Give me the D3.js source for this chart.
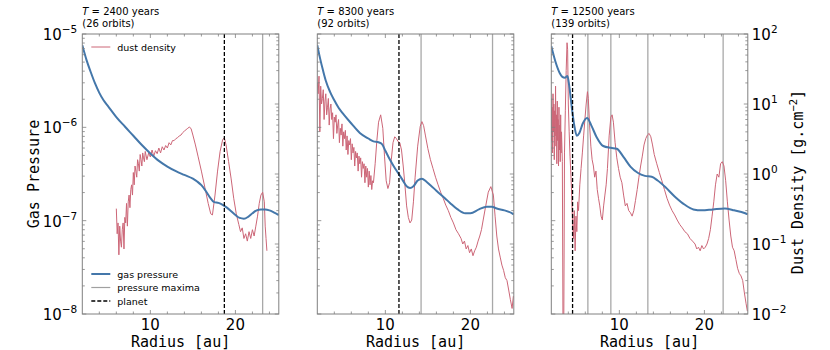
<!DOCTYPE html>
<html lang="en">
<head>
<meta charset="UTF-8">
<title>Gas pressure and dust density</title>
<script src="https://cdnjs.cloudflare.com/ajax/libs/d3/7.8.5/d3.min.js"></script>
<style>
    body { margin: 0; background: #fff; }
    svg { display: block; font-family: "DejaVu Sans", sans-serif; }
    .mono { font-family: "DejaVu Sans Mono", monospace; }
</style>
</head>
<body>
<svg id="chart" width="830" height="350"></svg>
<script>
// snapshot info
const years = ["2400", "8300", "12500"];
const orbits = ["26", "92", "139"];
const planetR = [18.7, 11.6, 4.5];
const maximaR = [[23.2], [14.2, 22.6], [6.3, 9.0, 13.35, 22.2]];

// gas pressure (left axis)
const gasR1 = [2, 2.5, 3, 3.5, 4, 4.5, 5, 6, 7, 8, 9, 10, 11, 12, 13, 14, 15, 15.5, 16, 16.5,
    17, 17.5, 18, 18.5, 19, 19.5, 20, 20.5, 21, 21.5, 22, 22.5, 23, 23.5, 24, 24.5, 25.1];
const gasP1 = [7.59e-6, 5.25e-6, 3.89e-6, 2.95e-6, 2.34e-6, 1.95e-6, 1.70e-6, 1.29e-6, 1.02e-6, 8.13e-7,
    6.46e-7, 5.25e-7, 4.37e-7, 3.80e-7, 3.39e-7, 3.09e-7, 2.82e-7, 2.63e-7, 2.40e-7, 2.09e-7,
    1.78e-7, 1.58e-7, 1.55e-7, 1.48e-7, 1.38e-7, 1.26e-7, 1.15e-7, 1.07e-7, 1.05e-7, 1.10e-7,
    1.20e-7, 1.29e-7, 1.32e-7, 1.32e-7, 1.29e-7, 1.23e-7, 1.15e-7];

const gasR2 = [2, 2.3, 2.7, 3, 3.5, 4, 4.5, 5, 6, 7, 8, 8.6, 9.2, 9.6, 10, 10.5, 11, 11.5, 12, 12.5,
    12.9, 13.3, 13.8, 14.3, 14.8, 15.3, 16, 17, 17.6, 18.5, 19.4, 20, 21, 21.9, 22.5, 23.1, 24, 24.9, 25.1];
const gasP2 = [7.59e-6, 5.62e-6, 3.98e-6, 3.16e-6, 2.40e-6, 1.95e-6, 1.62e-6, 1.41e-6, 1.10e-6, 8.71e-7,
    7.59e-7, 7.08e-7, 6.92e-7, 6.61e-7, 5.62e-7, 4.57e-7, 3.80e-7, 3.24e-7, 2.75e-7, 2.34e-7,
    2.24e-7, 2.34e-7, 2.69e-7, 2.82e-7, 2.63e-7, 2.40e-7, 2.09e-7, 1.74e-7, 1.55e-7, 1.32e-7,
    1.20e-7, 1.20e-7, 1.32e-7, 1.41e-7, 1.41e-7, 1.35e-7, 1.29e-7, 1.20e-7, 1.17e-7];

const gasR3 = [2, 2.5, 3, 3.3, 3.6, 3.9, 4.1, 4.4, 4.7, 5, 5.3, 5.7, 6.2, 6.7, 7.3, 8.1, 9, 9.7, 10.5, 11.3,
    12.2, 13, 13.8, 14.5, 15.4, 16.5, 17.7, 18.7, 19.7, 21, 22.4, 23.5, 24.8, 25.1];
const gasP3 = [7.41e-6, 5.01e-6, 3.80e-6, 3.47e-6, 3.39e-6, 3.55e-6, 2.82e-6, 1.66e-6, 1.05e-6, 8.13e-7,
    8.71e-7, 1.10e-6, 1.26e-6, 1.05e-6, 7.94e-7, 6.31e-7, 6.03e-7, 5.89e-7, 4.79e-7, 3.80e-7,
    3.24e-7, 3.02e-7, 2.95e-7, 2.69e-7, 2.29e-7, 1.82e-7, 1.48e-7, 1.32e-7, 1.29e-7, 1.32e-7,
    1.35e-7, 1.29e-7, 1.20e-7, 1.17e-7];

// dust surface density (right axis, g/cm^2)
const dustR1 = [6.0, 6.1, 6.2, 6.3, 6.4, 6.5, 6.6, 6.7, 6.8, 6.9,
    7.0, 7.1, 7.2, 7.3, 7.4, 7.5, 7.6, 7.7, 7.8, 7.9,
    8.0, 8.1, 8.2, 8.3, 8.4, 8.5, 8.6, 8.7, 8.8, 8.9,
    9.0, 9.1, 9.2, 9.3, 9.4, 9.6, 9.8, 10.0, 10.2, 10.4,
    10.6, 10.8, 11.0, 11.2, 11.4, 11.6, 11.8, 12.0, 12.2, 12.4,
    12.6, 12.8, 13.0, 13.2, 13.4, 13.6, 13.8, 14.0, 14.2, 14.4,
    14.6, 14.8, 15.0, 15.3, 15.6, 16.0, 16.4, 16.8, 17.1, 17.3,
    17.6, 17.9, 18.2, 18.5, 18.7, 18.9, 19.2, 19.5, 19.8, 20.1,
    20.4, 20.6, 20.8, 21.0, 21.2, 21.4, 21.6, 21.8, 22.0, 22.2,
    22.4, 22.6, 22.8, 23.0, 23.2, 23.4, 23.5, 23.6, 23.7];
const dustD1 = [0.32, 0.14, 0.20, 0.07, 0.18, 0.11, 0.09, 0.16, 0.20, 0.085,
    0.24, 0.20, 0.38, 0.18, 0.40, 0.50, 0.33, 0.60, 0.70, 0.50,
    1.05, 0.70, 1.3, 1.1, 0.9, 1.6, 1.4, 1.1, 1.9, 1.6,
    1.3, 2.0, 1.7, 1.5, 2.1, 1.6, 2.0, 1.75, 2.2, 1.8,
    2.15, 1.95, 2.35, 2.0, 2.45, 2.2, 2.55, 2.35, 2.8, 2.6,
    3.0, 3.0, 3.2, 3.3, 3.5, 3.6, 3.9, 4.1, 4.3, 4.5,
    4.7, 4.4, 3.6, 2.6, 1.8, 1.1, 0.65, 0.38, 0.27, 0.26,
    0.5, 1.1, 2.1, 3.1, 3.3, 2.6, 1.5, 0.85, 0.45, 0.27,
    0.19, 0.15, 0.17, 0.12, 0.14, 0.11, 0.15, 0.12, 0.16, 0.13,
    0.18, 0.25, 0.38, 0.50, 0.55, 0.40, 0.18, 0.12, 0.08];

const dustR2 = [2.0, 2.1, 2.2, 2.3, 2.4, 2.5, 2.6, 2.7, 2.8, 2.9,
    3.0, 3.1, 3.2, 3.3, 3.4, 3.5, 3.6, 3.7, 3.8, 3.9,
    4.0, 4.1, 4.2, 4.3, 4.4, 4.5, 4.6, 4.7, 4.8, 4.9,
    5.0, 5.1, 5.2, 5.3, 5.4, 5.5, 5.6, 5.7, 5.8, 5.9,
    6.0, 6.1, 6.2, 6.3, 6.4, 6.5, 6.6, 6.7, 6.8, 6.9,
    7.0, 7.1, 7.2, 7.3, 7.4, 7.5, 7.6, 7.7, 7.8, 7.9,
    8.0, 8.1, 8.2, 8.3, 8.4, 8.5, 8.6, 8.80, 9.00, 9.20,
    9.45, 9.70, 9.90, 10.10, 10.30, 10.50, 10.70, 10.90, 11.10, 11.30,
    11.50, 11.70, 11.90, 12.10, 12.30, 12.50, 12.70, 12.90, 13.10, 13.30,
    13.50, 13.80, 14.10, 14.30, 14.50, 14.70, 15.00, 15.30, 15.60, 15.90,
    16.20, 16.50, 16.80, 17.10, 17.40, 17.70, 18.00, 18.30, 18.60, 18.90,
    19.10, 19.30, 19.50, 19.70, 19.90, 20.10, 20.30, 20.50, 20.70, 20.90,
    21.10, 21.30, 21.50, 21.80, 22.10, 22.40, 22.70, 22.90, 23.10, 23.30,
    23.50, 23.70, 23.90, 24.10, 24.30, 24.50, 24.70, 24.90, 25.05];
const dustD2 = [20, 14, 25, 4, 18, 10, 12, 16, 6, 11,
    14, 7, 9, 12, 5, 8.5, 10, 6, 7.5, 3.2,
    6.5, 5.5, 7, 3.8, 5, 6, 2.8, 4.5, 3.6, 5.2,
    2.5, 4, 3.2, 4.2, 2.2, 3.5, 1.9, 3.0, 2.6, 3.2,
    1.6, 2.7, 2.0, 2.4, 1.3, 2.1, 1.7, 2.0, 1.1, 1.8,
    1.4, 1.7, 0.9, 1.5, 1.2, 1.4, 0.75, 1.3, 0.9, 1.2,
    0.65, 1.1, 0.7, 0.95, 0.6, 0.8, 0.75, 1.4, 3.0, 5.5,
    7.0, 4.5, 1.8, 0.8, 0.62, 0.75, 1.6, 2.8, 3.4, 3.2,
    2.9, 2.8, 2.2, 1.3, 0.7, 0.35, 0.24, 0.2, 0.22, 0.4,
    0.9, 2.5, 4.8, 5.6, 4.9, 3.6, 2.3, 1.6, 1.2, 0.9,
    0.7, 0.55, 0.45, 0.36, 0.3, 0.24, 0.2, 0.16, 0.14, 0.12,
    0.10, 0.11, 0.085, 0.095, 0.075, 0.085, 0.068, 0.08, 0.09, 0.11,
    0.13, 0.16, 0.22, 0.35, 0.55, 0.66, 0.5, 0.25, 0.13, 0.085,
    0.065, 0.05, 0.042, 0.033, 0.03, 0.022, 0.016, 0.012, 0.018];

const dustR3 = [2.00, 2.05, 2.10, 2.15, 2.20, 2.25, 2.30, 2.35, 2.40, 2.45,
    2.50, 2.55, 2.60, 2.65, 2.70, 2.75, 2.80, 2.85, 2.90, 2.95,
    3.00, 3.05, 3.10, 3.15, 3.20, 3.30, 3.38, 3.46, 3.55, 3.65,
    3.75, 3.85, 3.92, 4.00, 4.10, 4.20, 4.30, 4.40, 4.50, 4.60,
    4.70, 4.80, 4.90, 5.00, 5.10, 5.20, 5.35, 5.50, 5.65, 5.80,
    5.95, 6.10, 6.25, 6.35, 6.50, 6.65, 6.80, 6.95, 7.10, 7.25,
    7.40, 7.55, 7.70, 7.85, 8.00, 8.15, 8.30, 8.45, 8.60, 8.80,
    9.00, 9.15, 9.30, 9.50, 9.70, 9.90, 10.10, 10.30, 10.50, 10.70,
    10.90, 11.10, 11.30, 11.50, 11.70, 11.90, 12.10, 12.30, 12.50, 12.70,
    12.90, 13.10, 13.30, 13.50, 13.70, 13.90, 14.10, 14.40, 14.70, 15.00,
    15.30, 15.60, 15.90, 16.20, 16.50, 16.80, 17.10, 17.40, 17.70, 18.00,
    18.30, 18.60, 18.90, 19.10, 19.30, 19.50, 19.70, 19.90, 20.10, 20.30,
    20.50, 20.70, 20.90, 21.10, 21.30, 21.50, 21.70, 21.90, 22.10, 22.30,
    22.50, 22.70, 22.90, 23.10, 23.30, 23.50, 23.70, 23.90, 24.10, 24.30,
    24.50, 24.70, 24.90, 25.05];
const dustD3 = [12, 3, 9, 2, 14, 4, 10, 1.6, 8, 3.5,
    18, 2.5, 7, 1.4, 11, 3, 6, 1.3, 9, 2.2,
    5, 1.5, 7, 2, 4, 1.5, 0.004, 0.004, 2, 8,
    30, 75, 60, 10, 4, 1.8, 1.0, 0.5, 0.2, 0.12,
    0.3, 0.08, 0.25, 0.15, 0.4, 0.3, 0.7, 1.2, 2.0, 3.5,
    6, 10, 15, 12, 5, 2.5, 1.6, 1.3, 0.9, 1.1,
    0.6, 0.45, 0.35, 0.25, 0.22, 0.35, 0.5, 0.7, 1.2, 3.5,
    6.5, 7, 5.5, 2.8, 1.7, 1.2, 0.9, 0.75, 0.5, 0.35,
    0.38, 0.3, 0.28, 0.25, 0.3, 0.42, 0.6, 0.9, 1.3, 1.8,
    2.6, 3.2, 3.6, 3.8, 3.4, 2.6, 1.9, 1.4, 1.05, 0.8,
    0.6, 0.45, 0.36, 0.3, 0.26, 0.22, 0.19, 0.17, 0.15, 0.14,
    0.12, 0.11, 0.1, 0.085, 0.09, 0.08, 0.095, 0.085, 0.09, 0.1,
    0.12, 0.16, 0.25, 0.4, 0.7, 1.0, 0.9, 1.4, 1.5, 1.3,
    0.8, 0.4, 0.22, 0.13, 0.09, 0.08, 0.06, 0.045, 0.038, 0.035,
    0.03, 0.02, 0.014, 0.011];

const xTicks = [10, 20];
const xMinor = [4, 6, 8, 12, 14, 16, 18, 22, 24];

const panels = [
    { gasR: gasR1, gasP: gasP1, dustR: dustR1, dustD: dustD1 },
    { gasR: gasR2, gasP: gasP2, dustR: dustR2, dustD: dustD2 },
    { gasR: gasR3, gasP: gasP3, dustR: dustR3, dustD: dustD3 }
];

const blue = "#4477aa", red = "#cc6677", spine = "#808080";
const lefts = [82.3, 317.3, 551.3];
const plotTop = 34, W = 196.5, H = 280;

const svg = d3.select("#chart");

const x = d3.scaleLinear().domain([2, 25.1]).range([0, W]);
const yP = d3.scaleLog().domain([1e-8, 1e-5]).range([H, 0]);
const yD = d3.scaleLog().domain([1e-2, 1e2]).range([H, 0]);

function logMinor(scale) {
    const out = [];
    const [a, b] = scale.domain();
    for (let e = Math.round(Math.log10(a)); e < Math.round(Math.log10(b)); e++) {
        for (let k = 2; k <= 9; k++) out.push(k * Math.pow(10, e));
    }
    return out;
}
function decades(scale) {
    const out = [];
    const [a, b] = scale.domain();
    for (let e = Math.round(Math.log10(a)); e <= Math.round(Math.log10(b)); e++) out.push(e);
    return out;
}

panels.forEach((p, i) => {
    const g = svg.append("g").attr("transform", `translate(${lefts[i]},${plotTop})`);

    g.append("clipPath").attr("id", "clip" + i)
        .append("rect").attr("width", W).attr("height", H);
    const plot = g.append("g").attr("clip-path", `url(#clip${i})`);

    // pressure maxima
    plot.selectAll("line.maxima")
        .data(maximaR[i])
        .enter().append("line")
        .attr("x1", d => x(d)).attr("x2", d => x(d))
        .attr("y1", 0).attr("y2", H)
        .attr("stroke", "#a8a8a8").attr("stroke-width", 1.3);

    // dust density
    const dustLine = d3.line().x(d => x(d[0])).y(d => yD(d[1]));
    plot.append("path")
        .attr("d", dustLine(d3.zip(p.dustR, p.dustD)))
        .attr("fill", "none").attr("stroke", red).attr("stroke-width", 1)
        .attr("stroke-linejoin", "round");

    // gas pressure
    const gasLine = d3.line().x(d => x(d[0])).y(d => yP(d[1])).curve(d3.curveMonotoneX);
    plot.append("path")
        .attr("d", gasLine(d3.zip(p.gasR, p.gasP)))
        .attr("fill", "none").attr("stroke", blue).attr("stroke-width", 2);

    // planet
    plot.append("line")
        .attr("x1", x(planetR[i])).attr("x2", x(planetR[i]))
        .attr("y1", 0).attr("y2", H)
        .attr("stroke", "#000").attr("stroke-width", 1.3)
        .attr("stroke-dasharray", "4,2");

    // frame
    g.append("rect").attr("width", W).attr("height", H)
        .attr("fill", "none").attr("stroke", spine).attr("stroke-width", 1);

    // ticks, all inward
    const tk = g.append("g").attr("stroke", spine).attr("stroke-width", 0.8);
    xTicks.concat(xMinor).forEach(t => {
        const len = xTicks.includes(t) ? 4 : 2.5;
        tk.append("line").attr("x1", x(t)).attr("x2", x(t)).attr("y1", H).attr("y2", H - len);
        tk.append("line").attr("x1", x(t)).attr("x2", x(t)).attr("y1", 0).attr("y2", len);
    });
    [[yP, 0, 1], [yD, W, -1]].forEach(([s, x0, dir]) => {
        decades(s).forEach(e => {
            const yy = s(Math.pow(10, e));
            tk.append("line").attr("x1", x0).attr("x2", x0 + dir * 4).attr("y1", yy).attr("y2", yy);
        });
        logMinor(s).forEach(v => {
            tk.append("line").attr("x1", x0).attr("x2", x0 + dir * 2.5).attr("y1", s(v)).attr("y2", s(v));
        });
    });

    // x tick labels
    g.selectAll("text.xt")
        .data(xTicks)
        .enter().append("text")
        .attr("x", d => x(d)).attr("y", H + 16)
        .attr("text-anchor", "middle").attr("font-size", 15)
        .text(d => d);

    g.append("text").attr("class", "mono")
        .attr("x", W / 2).attr("y", H + 33)
        .attr("text-anchor", "middle").attr("font-size", 15)
        .text("Radius [au]");

    // title
    const tt = g.append("text").attr("x", 0).attr("y", -19).attr("font-size", 10);
    tt.append("tspan").attr("font-style", "italic").text("T");
    tt.append("tspan").text(" =  " + years[i] + " years");
    g.append("text").attr("x", 0).attr("y", -7).attr("font-size", 10)
        .text("(" + orbits[i] + " orbits)");

    // left labels on first panel
    if (i === 0) {
        decades(yP).forEach(e => {
            const t = g.append("text")
                .attr("x", -5).attr("y", yP(Math.pow(10, e)) + 6)
                .attr("text-anchor", "end").attr("font-size", 15);
            t.append("tspan").text("10");
            t.append("tspan").attr("dy", -7).attr("font-size", 10.5).text("\u2212" + Math.abs(e));
        });
        g.append("text").attr("class", "mono")
            .attr("transform", `translate(${39 - lefts[0]},${H / 2}) rotate(-90)`)
            .attr("text-anchor", "middle").attr("font-size", 15)
            .text("Gas Pressure");
    }

    // right labels on last panel
    if (i === 2) {
        decades(yD).forEach(e => {
            const t = g.append("text")
                .attr("x", W + 4).attr("y", yD(Math.pow(10, e)) + 6)
                .attr("font-size", 15);
            t.append("tspan").text("10");
            t.append("tspan").attr("dy", -7).attr("font-size", 10.5)
                .text(e < 0 ? "\u2212" + Math.abs(e) : e);
        });
        const rl = g.append("text").attr("class", "mono")
            .attr("transform", `translate(${803 - lefts[2]},${H / 2 + 8}) rotate(-90)`)
            .attr("text-anchor", "middle").attr("font-size", 15);
        rl.append("tspan").text("Dust Density [g.cm");
        rl.append("tspan").attr("dy", -6).attr("font-size", 10.5).text("\u22122");
        rl.append("tspan").attr("dy", 6).text("]");
    }

    // legends on first panel
    if (i === 0) {
        const leg = g.append("g").attr("font-size", 9.5);
        const rows = [
            { y: 13, text: "dust density", color: red, w: 1, dash: null },
            { y: 240, text: "gas pressure", color: blue, w: 2, dash: null },
            { y: 253.5, text: "pressure maxima", color: "#a0a0a0", w: 1.2, dash: null },
            { y: 267, text: "planet", color: "#000", w: 1.3, dash: "4,2" }
        ];
        rows.forEach(r => {
            leg.append("line")
                .attr("x1", 9).attr("x2", 28).attr("y1", r.y).attr("y2", r.y)
                .attr("stroke", r.color).attr("stroke-width", r.w)
                .attr("stroke-dasharray", r.dash);
            leg.append("text").attr("x", 35).attr("y", r.y + 3.5).text(r.text);
        });
    }
});
</script>
</body>
</html>
